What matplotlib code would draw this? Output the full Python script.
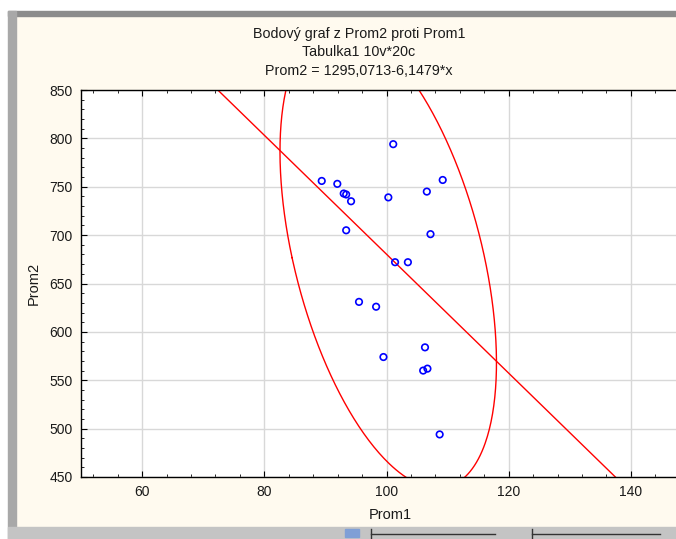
import numpy as np
import matplotlib.pyplot as plt
from matplotlib.ticker import MultipleLocator, AutoMinorLocator
from matplotlib.patches import Rectangle

plt.rcParams['font.family'] = ['Liberation Sans', 'DejaVu Sans']

# data (20 cases)
prom1 = [101.1, 89.4, 91.95, 93.0, 93.4, 94.2, 100.3, 109.2, 106.6, 93.4,
         107.2, 95.5, 98.3, 106.3, 99.5, 106.0, 106.7, 108.7, 101.4, 103.5]
prom2 = [794, 756, 753, 743, 742, 735, 739, 757, 745, 705,
         701, 631, 626, 584, 574, 560, 562, 494, 672, 672]

intercept = 1295.0713
slope = -6.1479

title_lines = ['Bodový graf z Prom2 proti Prom1', 'Tabulka1 10v*20c',
               'Prom2 = 1295,0713-6,1479*x']

bg = '#fffaef'
W, H = 676, 539

fig = plt.figure(figsize=(W / 100, H / 100), dpi=100, facecolor=bg)

# window chrome of the screenshot
fig.patches.append(Rectangle((0, (H - 11) / H), 1, 11 / H, transform=fig.transFigure,
                             color='white', zorder=0))
fig.patches.append(Rectangle((0, 0), 8 / W, 1, transform=fig.transFigure,
                             color='white', zorder=0))
fig.patches.append(Rectangle((8 / W, (H - 16) / H), 1, 5 / H, transform=fig.transFigure,
                             color='#8c8c8c', zorder=1))
fig.patches.append(Rectangle((8 / W, 0), 8 / W, (H - 11) / H, transform=fig.transFigure,
                             color='#a8a8a8', zorder=1))
fig.patches.append(Rectangle((8 / W, 0), 1, 12 / H, transform=fig.transFigure,
                             color='#c4c4c4', zorder=1))
fig.patches.append(Rectangle((345 / W, 2 / H), 14 / W, 8 / H, transform=fig.transFigure,
                             color='#7f9fd6', zorder=2))
for x0, x1 in [(371, 495), (532, 660)]:
    fig.add_artist(plt.Line2D([x0 / W, x1 / W], [5 / H, 5 / H], color='#333333', lw=1))
    fig.add_artist(plt.Line2D([x0 / W, x0 / W], [1 / H, 10 / H], color='#333333', lw=1))

ax_left, ax_right, ax_top, ax_bottom = 81, 700, 90, 477
ax = fig.add_axes([ax_left / W, (H - ax_bottom) / H, (ax_right - ax_left) / W,
                   (ax_bottom - ax_top) / H])
ax.set_facecolor('white')

px_per_unit = 6.11
xmin = 50
xmax = xmin + (ax_right - ax_left) / px_per_unit
ax.set_xlim(xmin, xmax)
ax.set_ylim(450, 850)

ax.xaxis.set_major_locator(MultipleLocator(20))
ax.xaxis.set_minor_locator(AutoMinorLocator(5))
ax.yaxis.set_major_locator(MultipleLocator(50))
ax.yaxis.set_minor_locator(AutoMinorLocator(5))
ax.grid(True, which='major', color='#d8d8d8', lw=1)
ax.set_axisbelow(True)
ax.tick_params(which='both', direction='in', top=True, right=True,
               labelsize=10, colors='black', labelcolor='#1a1a1a', pad=6)
ax.tick_params(which='major', length=4)
ax.tick_params(which='minor', length=2.5)
for s in ax.spines.values():
    s.set_color('black')
    s.set_linewidth(1)

# regression line
xs = np.array([xmin, xmax])
ax.plot(xs, intercept + slope * xs, color='red', lw=1)

# confidence ellipse from the data
x = np.array(prom1)
y = np.array(prom2)
cov = np.cov(x, y)
vals, vecs = np.linalg.eigh(cov)
k = 2.8
t = np.linspace(0, 2 * np.pi, 400)
circ = np.vstack([np.cos(t), np.sin(t)])
pts = vecs @ (np.sqrt(vals)[:, None] * circ) * k
ax.plot(x.mean() + pts[0], y.mean() + pts[1], color='red', lw=1)

ax.scatter(prom1, prom2, s=22, facecolors='none', edgecolors='blue', linewidths=1.2,
           zorder=3)

ax.set_xlabel('Prom1', fontsize=10.5, color='#1a1a1a', labelpad=6)
ax.set_ylabel('Prom2', fontsize=10.5, color='#1a1a1a', labelpad=6)

for i, line in enumerate(title_lines):
    fig.text(359 / W, 1 - (34 + i * 18.5) / H, line, ha='center', va='center',
             fontsize=10.3, color='#1a1a1a')

fig.savefig('out.png', dpi=100, facecolor=fig.get_facecolor())
